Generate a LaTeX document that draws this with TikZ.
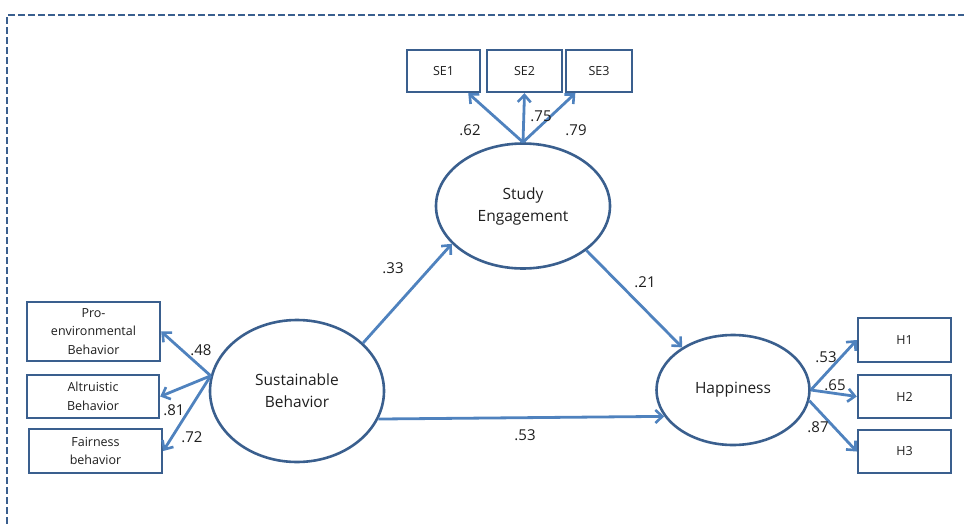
\documentclass[tikz,border=0pt]{standalone}
\usepackage{fontspec}
\setmainfont{Open Sans}
\usetikzlibrary{shapes.geometric,arrows.meta}
\definecolor{outl}{HTML}{3A5F8E}
\definecolor{arr}{HTML}{4F82BE}
\definecolor{txt}{HTML}{1E1E1E}
\tikzset{
  ind/.style={draw=outl, line width=2.4pt, fill=white, align=center, inner sep=0pt, font=\fontsize{12.5}{18.5}\selectfont, text=txt},
  lat/.style={ellipse, draw=outl, line width=2.6pt, align=center, inner sep=0pt, font=\fontsize{15.5}{22}\selectfont, text=txt},
  path/.style={draw=arr, line width=2.8pt, -{Straight Barb[length=7pt,width=13pt,line width=2.6pt]}},
  lbl/.style={font=\fontsize{15}{17}\selectfont, text=txt, inner sep=0pt}
}
\begin{document}
\begin{tikzpicture}[x=1pt,y=-1pt]
\useasboundingbox (0,0) rectangle (964,525);
\clip (0,0) rectangle (964,525);
\draw[outl, line width=2.2pt, dash pattern=on 7pt off 3pt] (975,15) -- (7,15) -- (7,540);

% indicators
\node[ind, minimum width=73pt, minimum height=42pt] (se1) at (443.5,71) {SE1};
\node[ind, minimum width=75pt, minimum height=42pt] (se2) at (524.5,71) {SE2};
\node[ind, minimum width=66pt, minimum height=42pt] (se3) at (599,71) {SE3};

\node[ind, minimum width=133pt, minimum height=59pt] (pe) at (93.5,331.5) {Pro-\\environmental\\Behavior};
\node[ind, minimum width=132pt, minimum height=43pt] (al) at (93,396.5) {Altruistic\\Behavior};
\node[ind, minimum width=133pt, minimum height=44pt] (fb) at (95.5,451) {Fairness\\behavior};

\node[ind, minimum width=93pt, minimum height=44pt] (h1) at (904.5,340) {H1};
\node[ind, minimum width=93pt, minimum height=43pt] (h2) at (904.5,396.5) {H2};
\node[ind, minimum width=93pt, minimum height=43pt] (h3) at (904.5,451.5) {H3};

% latent variables
\node[lat, minimum width=174pt, minimum height=125pt] (se) at (523,206) {Study\\Engagement};
\node[lat, minimum width=174pt, minimum height=142pt] (ss) at (297,391) {Sustainable\\Behavior};
\node[lat, minimum width=153pt, minimum height=110pt] (hp) at (733,390) {Happiness};

% measurement paths
\draw[path] (se.north) -- (se1);
\draw[path] (se.north) -- (se2.south);
\draw[path] (se.north) -- (se3);

\draw[path] (ss.170) -- (pe.east);
\draw[path] (ss.170) -- (al.east);
\draw[path] (ss.170) -- (fb.east);

\draw[path] (hp.east) -- (h1.west);
\draw[path] (hp.east) -- (h2.west);
\draw[path] (hp.-8) -- (h3.west);

% structural paths
\draw[path] (ss.36) -- (se.208);
\draw[path] (se.-35) -- (hp.140);
\draw[path] (ss.-19) -- (hp.201);

% labels
\node[lbl] (l62) at (470,130) {.62};
\node[lbl] (l75) at (541,116) {.75};
\node[lbl] (l79) at (576,130) {.79};
\node[lbl] (l48) at (201,350) {.48};
\node[lbl] (l81) at (174,410) {.81};
\node[lbl] (l72) at (192,437) {.72};
\node[lbl] (l53a) at (826,357) {.53};
\node[lbl] (l65) at (835,385) {.65};
\node[lbl] (l87) at (818,427) {.87};
\node[lbl] (l33) at (393,268) {.33};
\node[lbl] (l21) at (645,282) {.21};
\node[lbl] (l53b) at (525,435) {.53};
\end{tikzpicture}
\end{document}
